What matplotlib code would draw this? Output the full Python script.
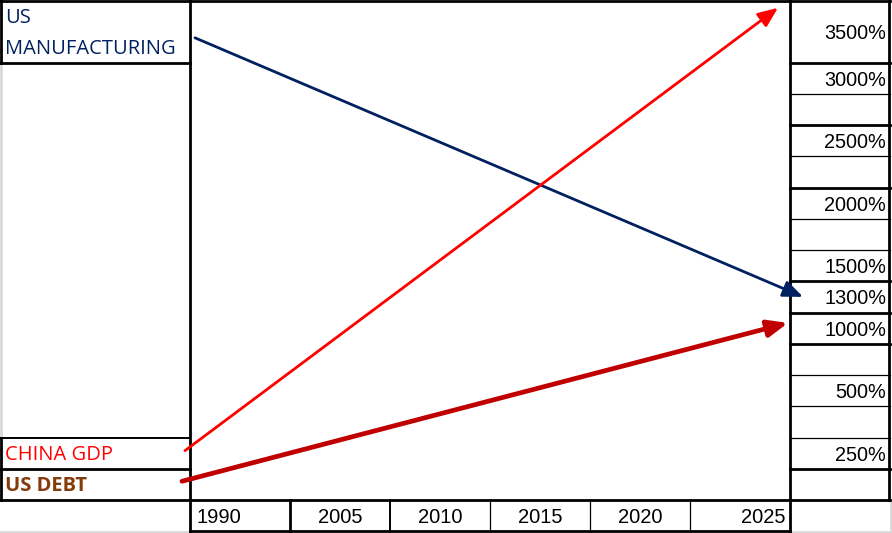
import matplotlib.pyplot as plt
import numpy as np

# table contents
years = ["1990", "2005", "2010", "2015", "2020", "2025"]
pct_labels = ["3500%", "3000%", "", "2500%", "", "2000%", "", "1500%",
              "1300%", "1000%", "", "500%", "", "250%", ""]

# series: name, start (1990) and end (2025) value in %
series_names = ["US MANUFACTURING", "CHINA GDP", "US DEBT"]
start_pct = [3430, 260, 100]
end_pct = [1300, 3750, 1050]

# styles
name_colors = ["#002060", "#FF0000", "#843C0C"]
arrow_colors = ["#002060", "#FF0000", "#C00000"]
arrow_lw = [2.0, 2.0, 3.4]
x_nudge = [(5, 13), (-5, -12), (-8, -2)]

W, H = 892, 533
RH = 31.25          # row height in px
LEFT_W = 190
COL_W = 100
X0 = LEFT_W
X1 = X0 + COL_W * len(years)
XR = X1 + 100
Y_BOT = 16 * RH     # bottom of chart area

fig = plt.figure(figsize=(W / 100, H / 100), dpi=100)
ax = fig.add_axes([0, 0, 1, 1])
ax.set_xlim(0, W)
ax.set_ylim(H, 0)
ax.axis("off")

THICK, MID, THIN = 2.0, 1.4, 0.9
gray = "#D9D9D9"
name_font = "Open Sans"


def hline(y, xa, xb, lw, c="black"):
    ax.plot([xa, xb], [y, y], color=c, lw=lw, solid_capstyle="projecting")


def vline(x, ya, yb, lw, c="black"):
    ax.plot([x, x], [ya, yb], color=c, lw=lw, solid_capstyle="projecting")


# gray spreadsheet edges
vline(1, 2 * RH, 14 * RH, 2.0, gray)
hline(H - 1.5, 0, W, 2.0, gray)
vline(W - 1.5, Y_BOT, H, 2.0, gray)

# top border
hline(1, 0, XR, THICK)

# left column cells
vline(1, 0, 2 * RH, THICK)
vline(1, 14 * RH, Y_BOT, THICK)
hline(2 * RH, 0, X0, THICK)
hline(14 * RH, 0, X0, MID)
hline(15 * RH, 0, X0, THICK)
hline(Y_BOT, 0, X0, THICK)

# chart box
vline(X0, 0, Y_BOT + RH, THICK)
vline(X1, 0, Y_BOT + RH, THICK)

# year row
hline(Y_BOT, X0, X1, THICK)
hline(Y_BOT + RH, X0, X1, THICK)
year_lw = [THICK, MID, THIN, THIN, THIN]
for i in range(1, len(years)):
    vline(X0 + COL_W * i, Y_BOT, Y_BOT + RH, year_lw[i - 1])
for i, yr in enumerate(years):
    if i == 0:
        xt, ha = X0 + 6, "left"
    elif i == len(years) - 1:
        xt, ha = X0 + COL_W * (i + 1) - 5, "right"
    else:
        xt, ha = X0 + COL_W * (i + 0.5), "center"
    ax.text(xt, Y_BOT + RH / 2 + 2, yr, ha=ha, va="center",
            fontsize=14.5, family="Liberation Sans")

# right column cells
vline(XR - 1, 0, Y_BOT, THICK)
row_top = [0] + [RH * (i + 1) for i in range(1, len(pct_labels))]
row_bot = [RH * (i + 2) for i in range(len(pct_labels))]
thick_bottoms = {0, 2, 4, 7, 8, 9, 13, 14}
level_vals, level_y = [], []
for i, lab in enumerate(pct_labels):
    hline(row_bot[i], X1, XR, THICK if i in thick_bottoms else THIN)
    yc = (row_top[i] + row_bot[i]) / 2
    if lab:
        ax.text(XR - 4, yc + 2, lab, ha="right", va="center",
                fontsize=14.3, family="Liberation Sans")
        level_vals.append(int(lab.rstrip("%")))
        level_y.append(yc)

# value -> y mapping along the labelled rows (0% at chart bottom)
level_vals = np.array([0] + level_vals[::-1] + [4000])
top_step = level_y[1] - level_y[0]
level_y = np.array([Y_BOT] + level_y[::-1] + [level_y[0] - top_step])


def pct_to_y(v):
    return np.interp(v, level_vals, level_y)


# series labels
ax.text(5, RH / 2 + 2, "US", color=name_colors[0], fontsize=14.5,
        family=name_font, va="center", ha="left")
ax.text(5, RH * 1.5 + 2, "MANUFACTURING", color=name_colors[0], fontsize=14.5,
        family=name_font, va="center", ha="left")
ax.text(5, 14.5 * RH + 2, series_names[1], color=name_colors[1], fontsize=14.5,
        family=name_font, va="center", ha="left")
ax.text(5, 15.5 * RH + 2, series_names[2], color=name_colors[2], fontsize=14.5,
        family=name_font, va="center", ha="left", weight="bold")

# arrows from 1990 to 2025
for i in range(len(series_names)):
    xs = X0 + x_nudge[i][0]
    xe = X1 + x_nudge[i][1]
    ax.annotate("", xy=(xe, pct_to_y(end_pct[i])),
                xytext=(xs, pct_to_y(start_pct[i])),
                arrowprops=dict(arrowstyle="-|>,head_length=0.6,head_width=0.25",
                                color=arrow_colors[i], lw=arrow_lw[i],
                                shrinkA=0, shrinkB=0, mutation_scale=20))

fig.savefig("out.png", dpi=100)
